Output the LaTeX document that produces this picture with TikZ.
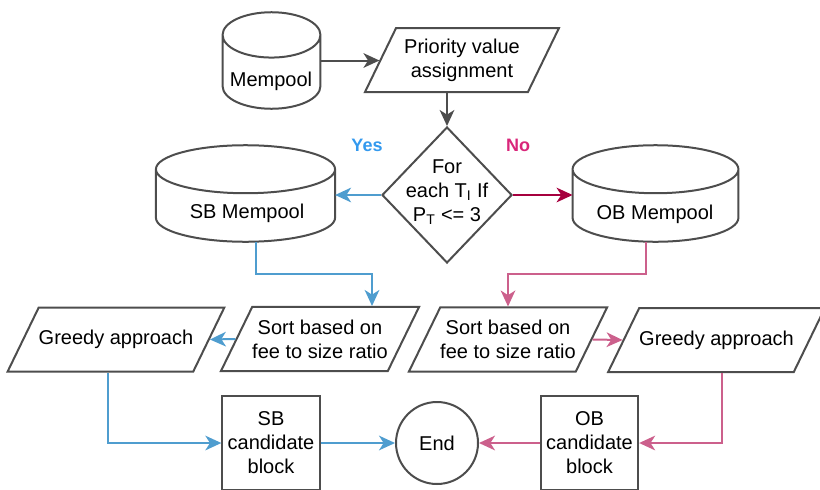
\documentclass[tikz,border=0pt]{standalone}
\usepackage{fontspec}
\setmainfont{Liberation Sans}
\usetikzlibrary{shapes.geometric, arrows.meta, positioning, calc}

\definecolor{edgegray}{RGB}{77,77,77}
\definecolor{sbblue}{RGB}{79,157,207}
\definecolor{yesblue}{RGB}{51,153,238}
\definecolor{obpink}{RGB}{204,96,140}
\definecolor{nored}{RGB}{166,0,62}
\definecolor{nopink}{RGB}{217,38,122}

% outline of a database drum around a named box node, #2 = height of the cap
\newcommand{\drumaround}[2]{%
  \draw [edgegray, line width=1.5pt]
    let \p1=(#1.north west), \p2=(#1.south east), \n1={(\x2-\x1)/2} in
    (\x1+\n1,\y1-#2) ellipse [x radius=\n1, y radius=#2]
    (\x1,\y1-#2) -- (\x1,\y2+#2) arc [start angle=180, end angle=360, x radius=\n1, y radius=#2]
    -- (\x2,\y1-#2);}

\begin{document}
\begin{tikzpicture}[x=0.75pt, y=-0.75pt,
    font=\fontsize{15}{18}\selectfont,
    base/.style={draw=edgegray, line width=1.5pt, align=center, inner sep=0pt},
    drum/.style={inner sep=0pt, minimum height=72pt},
    io/.style={base, trapezium, trapezium left angle=64, trapezium right angle=116,
      trapezium stretches body, inner xsep=0pt, inner ysep=9.5pt, minimum height=48pt},
    oneline/.style={inner ysep=16.9pt},
    cond/.style={base, diamond, minimum width=97.5pt, minimum height=102pt},
    blk/.style={base, rectangle, minimum width=73pt, minimum height=70.5pt},
    stop/.style={base, circle, minimum size=61.5pt},
    flow/.style={-{Stealth[length=12pt,width=11pt,inset=3.5pt]}, line width=1.5pt},
    answer/.style={font=\bfseries\fontsize{13.5}{16}\selectfont}]
  \useasboundingbox (0,0) rectangle (820,489);
  \clip (0,0) rectangle (820,489);

  % top row
  \node (mp) [drum, minimum width=73pt] at (271.5,60.5) {};
  \node (mptext) at (271,81) {Mempool};
  \node (prio) [io, inner ysep=7.9pt, minimum width=145.5pt] at (462,60) {Priority value\\assignment};

  % decision
  \node (dia) [cond] at (447,195) {};
  \node (diatext) [align=center] at (447,192) {For\\each T\textsubscript{I} If\\P\textsubscript{T} <= 3};
  \node (yes) [answer, text=yesblue] at (367,145) {Yes};
  \node (no) [answer, text=nopink] at (518,145) {No};

  % the two pools
  \node (sb) [drum, minimum width=134pt] at (245.5,193.5) {};
  \node (sbtext) at (247,213) {SB Mempool};
  \node (ob) [drum, minimum width=124pt] at (655.5,193.5) {};
  \node (obtext) at (655,214) {OB Mempool};

  % sorting and selection
  \node (sortsb) [io, minimum width=145.5pt] at (320,339) {Sort based on\\fee to size ratio};
  \node (sortob) [io, minimum width=145.5pt] at (508,339.5) {Sort based on\\fee to size ratio};
  \node (greedysb) [io, oneline, minimum width=159pt] at (116,339.5) {Greedy approach};
  \node (greedyob) [io, oneline, minimum width=157pt] at (716.5,340) {Greedy approach};

  % bottom row
  \node (candsb) [blk] at (271,443) {SB\\candidate\\block};
  \node (candob) [blk] at (589.5,443) {OB\\candidate\\block};
  \node (end) [stop] at (437,443) {End};

  \drumaround{mp}{17pt}
  \drumaround{sb}{18pt}
  \drumaround{ob}{18pt}

  \path [flow, edgegray]
    (mp.east) edge (mp.east -| prio.west)
    (prio.south -| dia.north) edge (dia.north);

  \path [flow]
    (dia.west) edge [sbblue] (dia.west -| sb.east)
    (dia.east) edge [nored] (dia.east -| ob.west);

  \draw [flow, sbblue] ([xshift=8pt]sb.south) -- ++(0,32) -| ($(sortsb.north)+(52,0)$);
  \draw [flow, obpink] ([xshift=-7pt]ob.south) -- ++(0,32) -| (sortob.north);

  \path [flow]
    (sortsb.west) edge [sbblue] (greedysb.east)
    (sortob.east) edge [obpink] (greedyob.west);

  \draw [flow, sbblue] ([xshift=-6pt]greedysb.south) |- (candsb.west);
  \draw [flow, obpink] ([xshift=4pt]greedyob.south) |- (candob.east);

  \path [flow]
    (candsb.east) edge [sbblue] (end.west)
    (candob.west) edge [obpink] (end.east);
\end{tikzpicture}
\end{document}
